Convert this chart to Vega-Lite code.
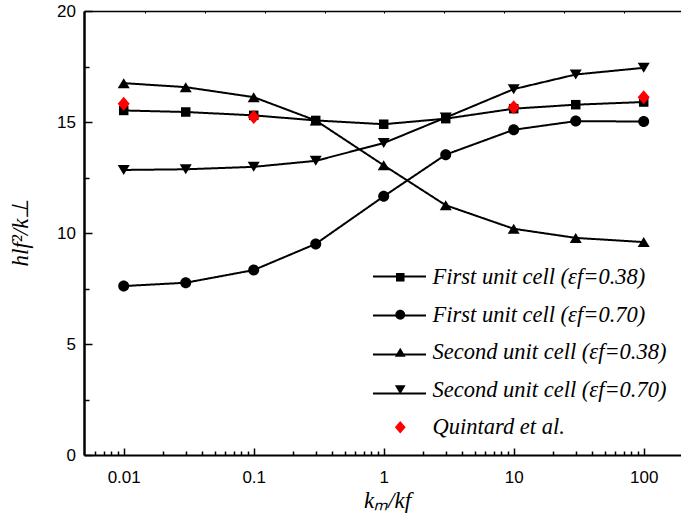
{
  "$schema": "https://vega.github.io/schema/vega-lite/v6.json",
  "width": 597,
  "height": 444,
  "autosize": {"type": "none"},
  "padding": {"left": 84, "top": 11, "right": 0, "bottom": 77},
  "config": {
    "view": {"stroke": null},
    "axis": {"grid": false, "domainColor": "black", "tickColor": "black", "labelColor": "black", "titleColor": "black"},
    "legend": {
      "orient": "none", "padding": 0,
      "labelFont": "Liberation Serif", "labelFontStyle": "italic", "labelFontSize": 22.5, "labelColor": "black", "labelLimit": 500
    }
  },
  "data": {"values": [
    {"x": 0.01, "y": 15.52, "s": "First unit cell (εf=0.38)"},
    {"x": 0.03, "y": 15.45, "s": "First unit cell (εf=0.38)"},
    {"x": 0.1, "y": 15.3, "s": "First unit cell (εf=0.38)"},
    {"x": 0.3, "y": 15.07, "s": "First unit cell (εf=0.38)"},
    {"x": 1, "y": 14.9, "s": "First unit cell (εf=0.38)"},
    {"x": 3, "y": 15.15, "s": "First unit cell (εf=0.38)"},
    {"x": 10, "y": 15.6, "s": "First unit cell (εf=0.38)"},
    {"x": 30, "y": 15.78, "s": "First unit cell (εf=0.38)"},
    {"x": 100, "y": 15.9, "s": "First unit cell (εf=0.38)"},
    {"x": 0.01, "y": 7.61, "s": "First unit cell (εf=0.70)"},
    {"x": 0.03, "y": 7.76, "s": "First unit cell (εf=0.70)"},
    {"x": 0.1, "y": 8.33, "s": "First unit cell (εf=0.70)"},
    {"x": 0.3, "y": 9.51, "s": "First unit cell (εf=0.70)"},
    {"x": 1, "y": 11.65, "s": "First unit cell (εf=0.70)"},
    {"x": 3, "y": 13.53, "s": "First unit cell (εf=0.70)"},
    {"x": 10, "y": 14.65, "s": "First unit cell (εf=0.70)"},
    {"x": 30, "y": 15.04, "s": "First unit cell (εf=0.70)"},
    {"x": 100, "y": 15.02, "s": "First unit cell (εf=0.70)"},
    {"x": 0.01, "y": 16.75, "s": "Second unit cell (εf=0.38)"},
    {"x": 0.03, "y": 16.57, "s": "Second unit cell (εf=0.38)"},
    {"x": 0.1, "y": 16.12, "s": "Second unit cell (εf=0.38)"},
    {"x": 0.3, "y": 15.07, "s": "Second unit cell (εf=0.38)"},
    {"x": 1, "y": 13.05, "s": "Second unit cell (εf=0.38)"},
    {"x": 3, "y": 11.25, "s": "Second unit cell (εf=0.38)"},
    {"x": 10, "y": 10.19, "s": "Second unit cell (εf=0.38)"},
    {"x": 30, "y": 9.78, "s": "Second unit cell (εf=0.38)"},
    {"x": 100, "y": 9.59, "s": "Second unit cell (εf=0.38)"},
    {"x": 0.01, "y": 12.84, "s": "Second unit cell (εf=0.70)"},
    {"x": 0.03, "y": 12.87, "s": "Second unit cell (εf=0.70)"},
    {"x": 0.1, "y": 12.98, "s": "Second unit cell (εf=0.70)"},
    {"x": 0.3, "y": 13.25, "s": "Second unit cell (εf=0.70)"},
    {"x": 1, "y": 14.05, "s": "Second unit cell (εf=0.70)"},
    {"x": 3, "y": 15.2, "s": "Second unit cell (εf=0.70)"},
    {"x": 10, "y": 16.48, "s": "Second unit cell (εf=0.70)"},
    {"x": 30, "y": 17.14, "s": "Second unit cell (εf=0.70)"},
    {"x": 100, "y": 17.44, "s": "Second unit cell (εf=0.70)"},
    {"x": 0.01, "y": 15.82, "s": "Quintard et al."},
    {"x": 0.1, "y": 15.22, "s": "Quintard et al."},
    {"x": 10, "y": 15.67, "s": "Quintard et al."},
    {"x": 100, "y": 16.12, "s": "Quintard et al."}
  ]},
  "layer": [
    {
      "transform": [{"filter": "datum.s !== 'Quintard et al.'"}],
      "mark": {"type": "line", "color": "black", "strokeWidth": 2},
      "encoding": {
        "x": {"field": "x", "type": "quantitative",
          "scale": {"type": "log", "domain": [0.00495, 193.6], "nice": false},
          "axis": {"orient": "bottom", "values": [0.01, 0.1, 1, 10, 100], "format": "~g",
            "labelFont": "Liberation Sans", "labelFontSize": 17, "labelPadding": 21,
            "tickSize": -7, "tickWidth": 1.5, "domainWidth": 2,
            "title": "kₘ/kf", "titleFont": "Liberation Serif", "titleFontStyle": "italic", "titleFontWeight": "normal",
            "titleFontSize": 23, "titleX": 303, "titleY": 52, "titleBaseline": "alphabetic", "titleAlign": "center"}},
        "y": {"field": "y", "type": "quantitative",
          "scale": {"domain": [0, 20], "nice": false, "zero": false},
          "axis": {"orient": "left", "values": [0, 5, 10, 15, 20],
            "labelFont": "Liberation Sans", "labelFontSize": 17, "labelPadding": 16.5,
            "tickSize": -8, "tickWidth": 1.5, "domainWidth": 2.5,
            "title": "hlf²/k⊥", "titleFont": "Liberation Serif", "titleFontStyle": "italic", "titleFontWeight": "normal",
            "titleFontSize": 23, "titleX": -64, "titleY": 221, "titleBaseline": "middle", "titleAlign": "center", "titleAngle": -90}},
        "strokeDash": {"field": "s", "type": "nominal",
          "scale": {"domain": ["First unit cell (εf=0.38)", "First unit cell (εf=0.70)", "Second unit cell (εf=0.38)", "Second unit cell (εf=0.70)"],
            "range": [[1, 0], [1, 0], [1, 0], [1, 0]]},
          "legend": {"title": null, "legendX": 288, "legendY": 238, "symbolSize": 2809, "symbolStrokeWidth": 2,
            "rowPadding": -16, "labelExpr": "''", "symbolStrokeColor": "black"}}
      }
    },
    {
      "mark": {"type": "point", "filled": true, "opacity": 1, "size": 100},
      "encoding": {
        "x": {"field": "x", "type": "quantitative",
          "axis": {"orient": "bottom", "values": [0.006, 0.007, 0.008, 0.009, 0.02, 0.03, 0.04, 0.05, 0.06, 0.07, 0.08, 0.09, 0.2, 0.3, 0.4, 0.5, 0.6, 0.7, 0.8, 0.9, 2, 3, 4, 5, 6, 7, 8, 9, 20, 30, 40, 50, 60, 70, 80, 90],
            "labels": false, "domain": false, "tickSize": -4, "tickWidth": 1.5, "title": null}},
        "y": {"field": "y", "type": "quantitative",
          "axis": {"orient": "left", "values": [2.5, 7.5, 12.5, 17.5], "labels": false, "domain": false, "tickSize": -5, "tickWidth": 1.5, "title": null}},
        "shape": {"field": "s", "type": "nominal",
          "scale": {"domain": ["First unit cell (εf=0.38)", "First unit cell (εf=0.70)", "Second unit cell (εf=0.38)", "Second unit cell (εf=0.70)", "Quintard et al."],
            "range": ["M-0.95,-0.95H0.95V0.95H-0.95Z", "M1.1,0A1.1,1.1,0,1,1,-1.1,0A1.1,1.1,0,1,1,1.1,0Z", "M0,-1L1.2,1H-1.2Z", "M0,1L1.2,-1H-1.2Z", "M0,-1.4L1.2,0L0,1.4L-1.2,0Z"]},
          "legend": {"title": null, "legendX": 305, "legendY": 255, "symbolSize": 81, "rowPadding": 14.5, "labelOffset": 21}},
        "color": {"field": "s", "type": "nominal",
          "scale": {"domain": ["First unit cell (εf=0.38)", "First unit cell (εf=0.70)", "Second unit cell (εf=0.38)", "Second unit cell (εf=0.70)", "Quintard et al."],
            "range": ["black", "black", "black", "black", "#ff0000"]},
          "legend": {"title": null, "legendX": 305, "legendY": 255, "symbolSize": 81, "rowPadding": 14.5, "labelOffset": 21}}
      }
    },
    {
      "transform": [{"filter": "datum.y < -100"}],
      "mark": {"type": "point", "filled": true},
      "encoding": {
        "x": {"field": "x", "type": "quantitative",
          "axis": {"orient": "top", "values": [0.01458, 0.04221, 0.1222, 0.3534, 1.011, 2.908, 8.366, 24.35, 70.57],
            "labels": false, "tickSize": -2, "tickWidth": 1, "domainWidth": 1.5, "title": null}},
        "y": {"field": "y", "type": "quantitative", "axis": null}
      }
    }
  ],
  "resolve": {"axis": {"x": "independent", "y": "independent"}}
}
